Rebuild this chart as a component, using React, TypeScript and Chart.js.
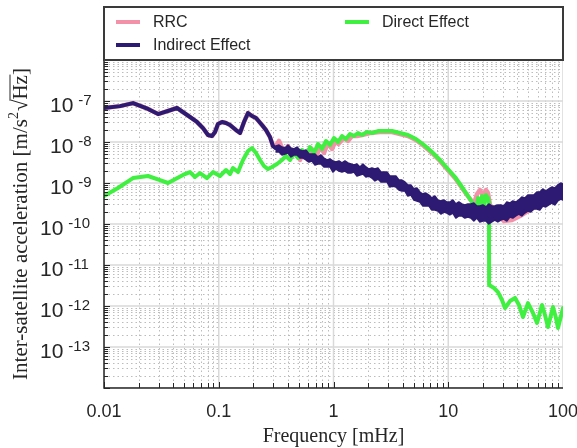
import React, { useEffect, useRef } from 'react';
import { Chart, registerables } from 'chart.js';

Chart.register(...registerables);

// ---------- data (frequency in mHz, acceleration in m/s^2/sqrt(Hz)) ----------
const indirectFreq = [
  0.01, 0.0138, 0.0179, 0.0242, 0.0296, 0.0433, 0.0562, 0.0646, 0.0729, 0.0806,
  0.0873, 0.0928, 0.0985, 0.1068, 0.1157, 0.1253, 0.1413, 0.1532, 0.166, 0.1798,
  0.1949, 0.2112, 0.2382, 0.258, 0.2797, 0.297, 0.3155,
];
const indirectVal = [
  6.75e-8, 7.5e-8, 8.9e-8, 6.4e-8, 4.8e-8, 6.75e-8, 4.07e-8, 3.08e-8, 2.19e-8, 1.48e-8,
  1.4e-8, 1.75e-8, 2.75e-8, 3.08e-8, 2.91e-8, 2.6e-8, 1.96e-8, 1.66e-8, 3.08e-8, 5.09e-8,
  4.31e-8, 3.85e-8, 2.6e-8, 1.96e-8, 1.32e-8, 7.98e-9, 6.9e-9,
];

// noisy part of the indirect effect: upper and lower edge of the band
const indirectBandFreq = [
  0.3155, 0.3351, 0.3558, 0.3779, 0.4013, 0.4262, 0.4526, 0.4807, 0.5105, 0.5421,
  0.5757, 0.6114, 0.6493, 0.6896, 0.7323, 0.7777, 0.8259, 0.8771, 0.9315, 0.9892,
  1.0505, 1.1157, 1.1848, 1.2583, 1.3363, 1.4191, 1.5071, 1.6005, 1.6997, 1.8051,
  1.917, 2.0358, 2.162, 2.296, 2.4383, 2.5895, 2.75, 2.9205, 3.1015, 3.2938,
  3.498, 3.7149, 3.9452, 4.1898, 4.4495, 4.7253, 5.0183, 5.3294, 5.6597, 6.0106,
  6.3832, 6.7789, 7.1992, 7.6455, 8.1195, 8.6228, 9.1574, 9.7251, 10.328, 10.968,
  11.648, 12.371, 13.138, 13.952, 14.817, 15.736, 16.711, 17.747, 18.848, 20.016,
  21.257, 22.575, 23.975, 25.461, 27.039, 28.716, 30.496, 32.387, 34.394, 36.527,
  38.791, 41.196, 43.75, 46.462, 49.343, 52.402, 55.651, 59.101, 62.765, 66.656,
  70.788, 75.177, 79.838, 84.787, 90.044, 95.626, 100,
];
const indirectBandUpper = [
  7.98e-9, 8.45e-9, 7.55e-9, 7.14e-9, 8.45e-9, 7.14e-9, 6.75e-9, 7.55e-9, 6.38e-9, 6.03e-9,
  6.38e-9, 5.09e-9, 5.09e-9, 5.09e-9, 4.31e-9, 4.82e-9, 4.07e-9, 3.64e-9, 3.85e-9, 3.44e-9,
  3.25e-9, 3.44e-9, 3.08e-9, 3.44e-9, 3.08e-9, 2.91e-9, 2.75e-9, 2.91e-9, 2.46e-9, 2.91e-9,
  2.46e-9, 2.19e-9, 2.32e-9, 2.19e-9, 2.32e-9, 1.85e-9, 1.85e-9, 1.85e-9, 1.48e-9, 1.48e-9,
  1.48e-9, 1.18e-9, 1.18e-9, 1.06e-9, 8.94e-10, 8.94e-10, 7.14e-10, 7.55e-10, 6.03e-10, 5.39e-10,
  5.7e-10, 5.09e-10, 4.31e-10, 4.82e-10, 3.85e-10, 3.64e-10, 3.85e-10, 3.44e-10, 3.44e-10, 3.85e-10,
  3.08e-10, 3.44e-10, 3.08e-10, 2.91e-10, 3.08e-10, 3.08e-10, 3.25e-10, 2.75e-10, 2.75e-10, 2.91e-10,
  2.6e-10, 3.08e-10, 2.75e-10, 2.75e-10, 2.91e-10, 2.91e-10, 2.75e-10, 3.44e-10, 3.25e-10, 3.64e-10,
  3.44e-10, 3.85e-10, 4.56e-10, 4.31e-10, 5.09e-10, 5.09e-10, 5.09e-10, 6.03e-10, 6.03e-10, 7.14e-10,
  6.38e-10, 7.14e-10, 7.98e-10, 7.55e-10, 8.94e-10, 1.0e-9, 9.46e-10,
];
const indirectBandLower = [
  5.7e-9, 5.7e-9, 4.82e-9, 5.09e-9, 5.39e-9, 4.31e-9, 4.82e-9, 4.82e-9, 4.07e-9, 4.07e-9,
  3.64e-9, 3.25e-9, 3.44e-9, 2.75e-9, 2.91e-9, 2.91e-9, 2.46e-9, 2.46e-9, 2.46e-9, 1.85e-9,
  2.19e-9, 1.96e-9, 1.85e-9, 1.96e-9, 1.75e-9, 1.75e-9, 1.85e-9, 1.48e-9, 1.57e-9, 1.66e-9,
  1.4e-9, 1.48e-9, 1.32e-9, 1.12e-9, 1.25e-9, 1.06e-9, 1.06e-9, 1.06e-9, 7.98e-10, 8.45e-10,
  7.98e-10, 6.75e-10, 6.38e-10, 6.38e-10, 4.82e-10, 5.09e-10, 3.85e-10, 3.64e-10, 3.44e-10, 2.75e-10,
  2.75e-10, 2.75e-10, 2.19e-10, 2.19e-10, 2.07e-10, 1.75e-10, 1.96e-10, 1.85e-10, 1.66e-10, 1.85e-10,
  1.4e-10, 1.57e-10, 1.57e-10, 1.4e-10, 1.48e-10, 1.4e-10, 1.18e-10, 1.4e-10, 1.12e-10, 1.18e-10,
  1.18e-10, 1.0e-10, 1.12e-10, 1.25e-10, 1.12e-10, 1.25e-10, 1.32e-10, 1.18e-10, 1.48e-10, 1.4e-10,
  1.57e-10, 1.75e-10, 1.57e-10, 1.85e-10, 2.07e-10, 1.96e-10, 2.32e-10, 2.32e-10, 2.19e-10, 2.75e-10,
  2.6e-10, 2.91e-10, 3.25e-10, 2.91e-10, 3.64e-10, 4.07e-10, 3.85e-10,
];

const directFreq = [
  0.01, 0.01324, 0.01789, 0.02418, 0.03076, 0.03612, 0.04881, 0.05617, 0.06209, 0.06863,
  0.07898, 0.0891, 0.1025, 0.1157, 0.1253, 0.1331, 0.1472, 0.1627, 0.1798, 0.1949,
  0.2112, 0.2289, 0.2479, 0.2686, 0.2911, 0.3218, 0.3557, 0.3856, 0.4178, 0.4526,
  0.4905, 0.5315, 0.5758, 0.624, 0.6762, 0.7328, 0.794, 0.8603, 0.9323, 1.01,
  1.094, 1.186, 1.285, 1.392, 1.509, 1.635, 1.772, 1.958, 2.165, 2.442,
  2.811, 3.235, 3.797, 4.459, 5.236, 6.149, 7.217, 8.477, 9.752, 11.45,
  13.18, 15.47, 17.11, 17.45, 18.16, 18.91, 19.69, 20.49, 21.33, 22.2,
  22.65, 22.7, 25.04, 27.13, 29.4, 31.24, 34.52, 38.2, 41.36, 44.8,
  49.53, 54.78, 59.4, 65.6, 69.67, 74.0, 81.8, 86.9, 90.4, 100,
];
const directVal = [
  4.82e-10, 7.55e-10, 1.32e-9, 1.48e-9, 1.18e-9, 1.0e-9, 1.57e-9, 1.85e-9, 1.4e-9, 1.75e-9,
  1.32e-9, 1.85e-9, 1.48e-9, 2.07e-9, 1.66e-9, 2.32e-9, 1.85e-9, 3.64e-9, 6.03e-9, 7.14e-9,
  5.39e-9, 3.64e-9, 2.6e-9, 2.19e-9, 2.46e-9, 2.91e-9, 3.64e-9, 4.56e-9, 3.64e-9, 5.39e-9,
  4.07e-9, 6.38e-9, 4.56e-9, 7.55e-9, 5.39e-9, 8.94e-9, 6.75e-9, 1.06e-8, 8.45e-9, 1.25e-8,
  1.0e-8, 1.4e-8, 1.18e-8, 1.57e-8, 1.4e-8, 1.66e-8, 1.48e-8, 1.75e-8, 1.66e-8, 1.85e-8,
  1.85e-8, 1.85e-8, 1.66e-8, 1.48e-8, 1.18e-8, 8.45e-9, 5.7e-9, 3.64e-9, 2.32e-9, 1.4e-9,
  7.98e-10, 4.07e-10, 2.6e-10, 2.19e-10, 4.31e-10, 2.19e-10, 4.82e-10, 2.46e-10, 5.09e-10, 4.31e-10,
  3.5e-10, 3.25e-12, 2.75e-12, 2.19e-12, 1.4e-12, 8.94e-13, 1.32e-12, 1.57e-12, 1.06e-12, 5.39e-13,
  1.18e-12, 6.75e-13, 3.85e-13, 1.06e-12, 6.03e-13, 3.08e-13, 9.46e-13, 5.09e-13, 2.91e-13, 8.94e-13,
];

const rrcFreq = [
  0.01, 0.0138, 0.0179, 0.0242, 0.0296, 0.0433, 0.0562, 0.0646, 0.0729, 0.0806,
  0.0873, 0.0928, 0.0985, 0.1068, 0.1157, 0.1253, 0.1413, 0.1532, 0.166, 0.1798,
  0.1949, 0.2112, 0.2382, 0.258, 0.2797, 0.297, 0.3155, 0.335, 0.3557, 0.3779,
  0.4013, 0.4348, 0.4712, 0.5105, 0.5534, 0.5995, 0.6496, 0.704, 0.7627, 0.8265,
  0.8955, 0.97, 1.0516, 1.101, 1.235, 1.338, 1.449, 1.602, 1.772, 2.08,
  2.542, 3.235, 3.797, 4.459, 5.236, 6.149, 7.217, 8.477, 9.752, 11.45,
  13.18, 15.47, 16.76, 17.81, 18.91, 20.09, 21.33, 22.2, 23.11, 25.55,
  30.6, 35.94, 42.2, 49.53, 63.01, 80.17, 100,
];
const rrcVal = [
  6.75e-8, 7.5e-8, 8.9e-8, 6.4e-8, 4.8e-8, 6.75e-8, 4.07e-8, 3.08e-8, 2.19e-8, 1.48e-8,
  1.4e-8, 1.75e-8, 2.75e-8, 3.08e-8, 2.91e-8, 2.6e-8, 1.96e-8, 1.66e-8, 3.08e-8, 5.09e-8,
  4.31e-8, 3.85e-8, 2.6e-8, 1.96e-8, 1.32e-8, 7.98e-9, 7.98e-9, 1.06e-8, 7.14e-9, 5.7e-9,
  7.98e-9, 4.56e-9, 6.38e-9, 3.64e-9, 5.7e-9, 3.64e-9, 6.75e-9, 4.07e-9, 7.98e-9, 5.39e-9,
  9.46e-9, 6.75e-9, 1.12e-8, 8.94e-9, 1.25e-8, 1.06e-8, 1.4e-8, 1.4e-8, 1.48e-8, 1.66e-8,
  1.75e-8, 1.75e-8, 1.57e-8, 1.4e-8, 1.12e-8, 7.98e-9, 5.39e-9, 3.44e-9, 2.19e-9, 1.32e-9,
  7.55e-10, 4.07e-10, 3.08e-10, 5.39e-10, 6.75e-10, 4.82e-10, 6.75e-10, 5.7e-10, 2.91e-10, 1.96e-10,
  1.18e-10, 1.25e-10, 1.57e-10, 2.07e-10, 3.08e-10, 4.56e-10, 6.03e-10,
];

const xTickValues = [0.01, 0.1, 1, 10, 100];
const xTickLabels = ['0.01', '0.1', '1', '10', '100'];
const yTickExponents = [-13, -12, -11, -10, -9, -8, -7];
const xDecades = [-2, -1, 0, 1];
const yDecades = [-14, -13, -12, -11, -10, -9, -8, -7];

const legendItems = ['RRC', 'Indirect Effect', 'Direct Effect'];
const xTitle = 'Frequency [mHz]';

// ---------- styles ----------
const NAVY = '#2d1a72';
const GREEN = '#40f040';
const PINK = '#f391a9';
const TEXT = '#262626';
const SANS = '"Liberation Sans", Arial, sans-serif';
const SERIF = '"Liberation Serif", "Times New Roman", serif';

const pts = (fs: number[], vs: number[]) => fs.map((f, i) => ({ x: f, y: vs[i] }));

const decorPlugin = {
  id: 'decor',
  beforeDraw(chart: any) {
    const { ctx, width, height } = chart;
    ctx.save();
    ctx.fillStyle = '#ffffff';
    ctx.fillRect(0, 0, width, height);
    ctx.restore();
  },
  beforeDatasetsDraw(chart: any) {
    const { ctx, chartArea: a, scales } = chart;
    const x = scales.x;
    const y = scales.y;
    ctx.save();
    ctx.beginPath();
    ctx.rect(a.left, a.top, a.right - a.left, a.bottom - a.top);
    ctx.clip();
    // minor dotted grid
    ctx.strokeStyle = '#bcbcbc';
    ctx.lineWidth = 1;
    ctx.setLineDash([1.5, 3]);
    for (const d of xDecades) {
      for (let k = 2; k <= 9; k++) {
        const px = Math.round(x.getPixelForValue(k * Math.pow(10, d))) + 0.5;
        ctx.beginPath();
        ctx.moveTo(px, a.top);
        ctx.lineTo(px, a.bottom);
        ctx.stroke();
      }
    }
    for (const d of yDecades) {
      for (let k = 2; k <= 9; k++) {
        const py = Math.round(y.getPixelForValue(k * Math.pow(10, d))) + 0.5;
        ctx.beginPath();
        ctx.moveTo(a.left, py);
        ctx.lineTo(a.right, py);
        ctx.stroke();
      }
    }
    // major solid grid
    ctx.setLineDash([]);
    ctx.strokeStyle = '#d9d9d9';
    ctx.lineWidth = 1.5;
    for (const d of [...xDecades, 2]) {
      const px = x.getPixelForValue(Math.pow(10, d));
      ctx.beginPath();
      ctx.moveTo(px, a.top);
      ctx.lineTo(px, a.bottom);
      ctx.stroke();
    }
    for (const d of [...yDecades, -6]) {
      const py = y.getPixelForValue(Math.pow(10, d));
      ctx.beginPath();
      ctx.moveTo(a.left, py);
      ctx.lineTo(a.right, py);
      ctx.stroke();
    }
    ctx.restore();
  },
  afterDraw(chart: any) {
    const { ctx, chartArea: a, scales } = chart;
    const x = scales.x;
    const y = scales.y;
    ctx.save();
    // axes
    ctx.strokeStyle = TEXT;
    ctx.lineWidth = 1.5;
    ctx.beginPath();
    ctx.moveTo(a.left, a.top);
    ctx.lineTo(a.left, a.bottom);
    ctx.lineTo(a.right, a.bottom);
    ctx.stroke();
    // tick marks
    ctx.lineWidth = 1;
    for (const d of xDecades) {
      for (let k = 1; k <= 9; k++) {
        const px = Math.round(x.getPixelForValue(k * Math.pow(10, d))) + 0.5;
        ctx.beginPath();
        ctx.moveTo(px, a.bottom);
        ctx.lineTo(px, a.bottom - (k === 1 ? 6 : 5));
        ctx.stroke();
      }
    }
    for (const d of yDecades) {
      for (let k = 1; k <= 9; k++) {
        const py = Math.round(y.getPixelForValue(k * Math.pow(10, d))) + 0.5;
        ctx.beginPath();
        ctx.moveTo(a.left, py);
        ctx.lineTo(a.left + (k === 1 ? 6 : 4), py);
        ctx.stroke();
      }
    }
    // x tick labels
    ctx.fillStyle = TEXT;
    ctx.font = `18px ${SANS}`;
    ctx.textAlign = 'center';
    ctx.textBaseline = 'alphabetic';
    xTickValues.forEach((v, i) => {
      ctx.fillText(xTickLabels[i], x.getPixelForValue(v), a.bottom + 29);
    });
    // y tick labels (10^n)
    ctx.textAlign = 'left';
    for (const e of yTickExponents) {
      const py = y.getPixelForValue(Math.pow(10, e));
      const sup = String(e);
      const tenX = sup.length > 2 ? 40 : 50;
      ctx.font = `21px ${SANS}`;
      ctx.fillText('10', tenX, py + 11);
      const w = ctx.measureText('10').width;
      ctx.font = `15px ${SANS}`;
      ctx.fillText(sup, tenX + w + 5, py + 4);
    }
    // x title
    ctx.font = `20px ${SERIF}`;
    ctx.textAlign = 'center';
    ctx.fillText(xTitle, (a.left + a.right) / 2, 442);
    // y title
    ctx.save();
    ctx.translate(27, 224);
    ctx.rotate(-Math.PI / 2);
    ctx.textAlign = 'left';
    const size = 21;
    const supSize = 14;
    const p1 = 'Inter-satellite acceleration [m/s';
    ctx.font = `${size}px ${SERIF}`;
    const w1 = ctx.measureText(p1).width;
    const w3 = ctx.measureText('\u221A').width;
    const w4 = ctx.measureText('Hz').width;
    const w5 = ctx.measureText(']').width;
    ctx.font = `${supSize}px ${SERIF}`;
    const w2 = ctx.measureText('2').width;
    const total = w1 + w2 + 1 + w3 + w4 + w5;
    let tx = -total / 2;
    ctx.font = `${size}px ${SERIF}`;
    ctx.fillText(p1, tx, 0);
    tx += w1;
    ctx.font = `${supSize}px ${SERIF}`;
    ctx.fillText('2', tx, -9);
    tx += w2 + 1;
    ctx.font = `${size}px ${SERIF}`;
    ctx.fillText('\u221A', tx, 0);
    const ox = tx + w3 * 0.9;
    tx += w3;
    ctx.fillText('Hz', tx, 0);
    tx += w4;
    ctx.strokeStyle = TEXT;
    ctx.lineWidth = 1;
    ctx.beginPath();
    ctx.moveTo(ox, -17);
    ctx.lineTo(tx + 0.5, -17);
    ctx.stroke();
    ctx.fillText(']', tx, 0);
    ctx.restore();

    // legend box
    ctx.fillStyle = '#ffffff';
    ctx.fillRect(a.left, 7, a.right - a.left, a.top - 7);
    ctx.strokeStyle = '#3a3a3a';
    ctx.lineWidth = 2;
    ctx.strokeRect(a.left, 7, a.right - a.left, a.top - 7);
    const entries = [
      { label: legendItems[0], color: PINK, lx: 116, ly: 22 },
      { label: legendItems[1], color: NAVY, lx: 116, ly: 45 },
      { label: legendItems[2], color: GREEN, lx: 345, ly: 22 },
    ];
    ctx.font = `16px ${SANS}`;
    ctx.textBaseline = 'middle';
    ctx.textAlign = 'left';
    for (const en of entries) {
      ctx.strokeStyle = en.color;
      ctx.lineWidth = 4;
      ctx.beginPath();
      ctx.moveTo(en.lx, en.ly);
      ctx.lineTo(en.lx + 24, en.ly);
      ctx.stroke();
      ctx.fillStyle = TEXT;
      ctx.fillText(en.label, en.lx + 37, en.ly + 1);
    }
    ctx.restore();
  },
};

export default function App() {
  const ref = useRef<HTMLCanvasElement>(null);
  useEffect(() => {
    const canvas = ref.current;
    if (!canvas) return;
    const line = {
      pointRadius: 0,
      pointHoverRadius: 0,
      tension: 0,
      borderJoinStyle: 'round' as const,
      borderCapStyle: 'round' as const,
    };
    const chart = new Chart(canvas, {
      type: 'line',
      data: {
        datasets: [
          { ...line, label: 'Indirect Effect', data: pts(indirectFreq, indirectVal), borderColor: NAVY, borderWidth: 4, fill: false, order: 0 },
          { ...line, label: 'Indirect Effect (upper)', data: pts(indirectBandFreq, indirectBandUpper), borderColor: NAVY, borderWidth: 1.5, fill: false, order: 0 },
          { ...line, label: 'Indirect Effect (lower)', data: pts(indirectBandFreq, indirectBandLower), borderColor: NAVY, borderWidth: 1.5, fill: '-1', backgroundColor: NAVY, order: 0 },
          { ...line, label: 'Direct Effect', data: pts(directFreq, directVal), borderColor: GREEN, borderWidth: 4, fill: false, order: 1 },
          { ...line, label: 'RRC', data: pts(rrcFreq, rrcVal), borderColor: PINK, borderWidth: 4.5, fill: false, order: 2 },
        ],
      },
      options: {
        responsive: false,
        maintainAspectRatio: false,
        devicePixelRatio: 1,
        animation: false,
        layout: { padding: { left: 104, right: 14, top: 60, bottom: 60 } },
        plugins: { legend: { display: false }, tooltip: { enabled: false } },
        scales: {
          x: { type: 'logarithmic', min: 0.01, max: 100, display: false },
          y: { type: 'logarithmic', min: 1e-14, max: 1e-6, display: false },
        },
      },
      plugins: [decorPlugin],
    } as any);
    return () => chart.destroy();
  }, []);
  return (
    <div style={{ position: 'fixed', left: 0, top: 0, width: 577, height: 448, background: '#fff' }}>
      <canvas ref={ref} width={577} height={448} style={{ display: 'block', width: 577, height: 448 }} />
    </div>
  );
}
